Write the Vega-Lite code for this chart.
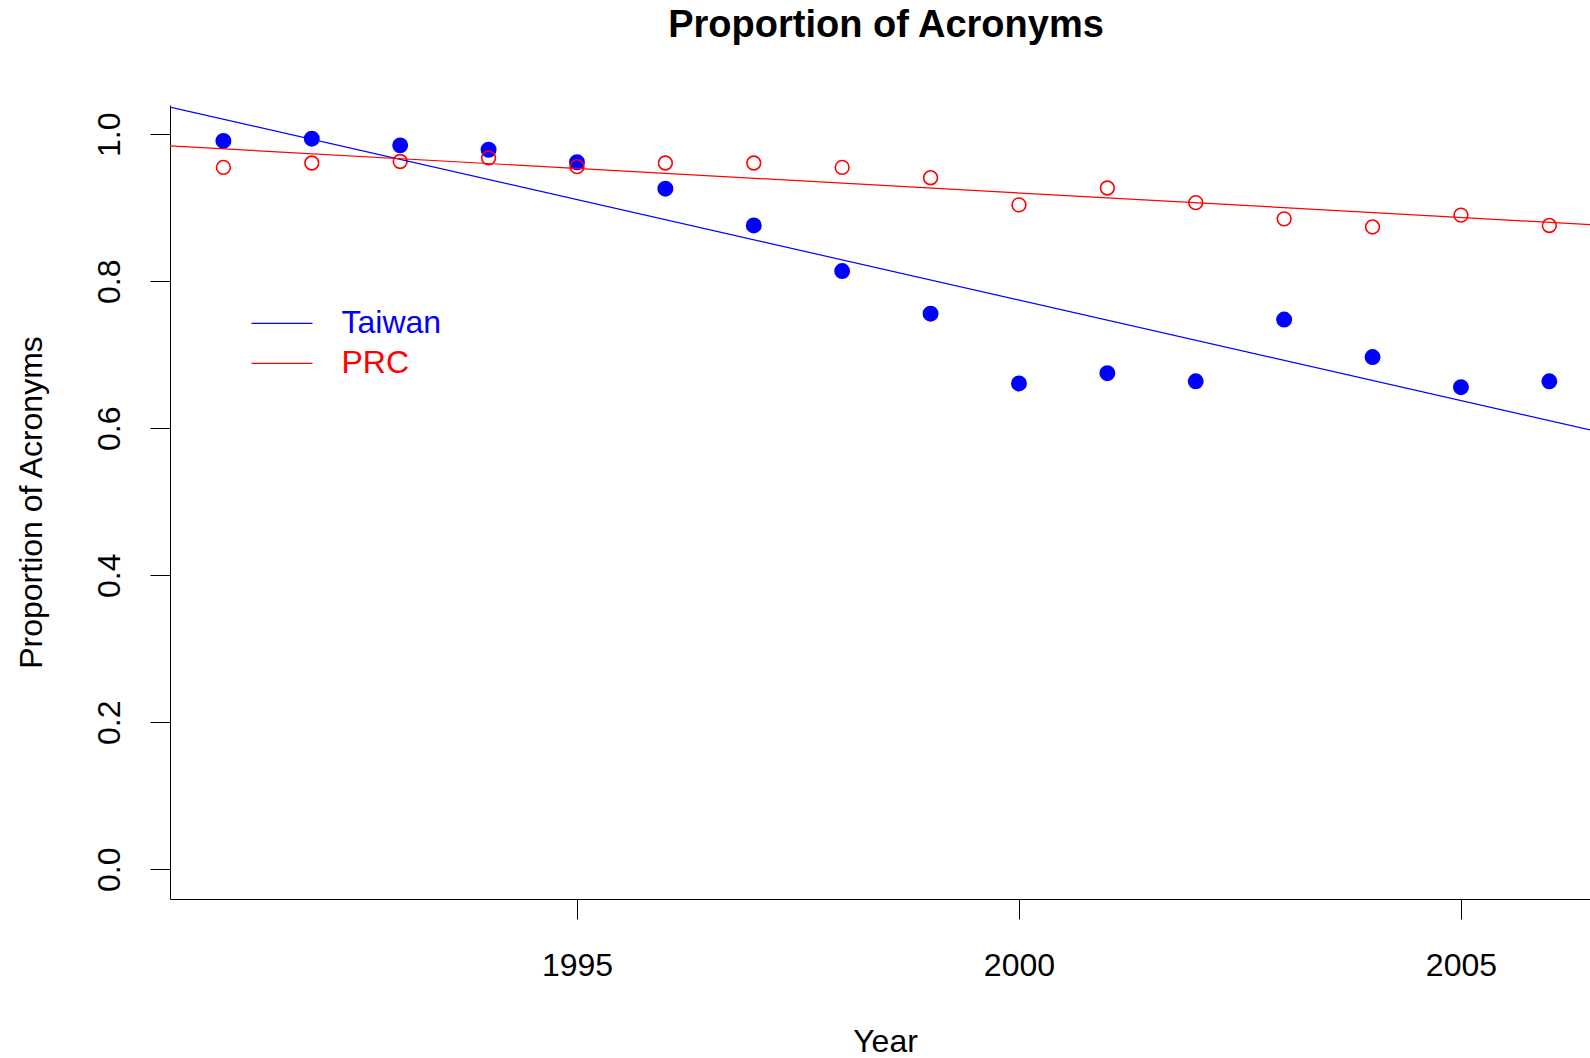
{
  "$schema": "https://vega.github.io/schema/vega-lite/v6.json",
  "width": 1420,
  "height": 794,
  "autosize": {"type": "none"},
  "padding": {"left": 170, "top": 105, "right": 0, "bottom": 159},
  "background": "white",
  "title": {"text": "Proportion of Acronyms", "font": "Liberation Sans", "fontSize": 38, "fontWeight": "bold", "color": "black", "anchor": "middle", "dx": 6, "baseline": "alphabetic", "offset": 30},
  "config": {"view": {"stroke": null}, "font": "Liberation Sans"},
  "data": {"values": [
    {"year": 1991, "series": "Taiwan", "value": 0.991},
    {"year": 1992, "series": "Taiwan", "value": 0.994},
    {"year": 1993, "series": "Taiwan", "value": 0.985},
    {"year": 1994, "series": "Taiwan", "value": 0.979},
    {"year": 1995, "series": "Taiwan", "value": 0.962},
    {"year": 1996, "series": "Taiwan", "value": 0.926},
    {"year": 1997, "series": "Taiwan", "value": 0.876},
    {"year": 1998, "series": "Taiwan", "value": 0.814},
    {"year": 1999, "series": "Taiwan", "value": 0.756},
    {"year": 2000, "series": "Taiwan", "value": 0.661},
    {"year": 2001, "series": "Taiwan", "value": 0.675},
    {"year": 2002, "series": "Taiwan", "value": 0.664},
    {"year": 2003, "series": "Taiwan", "value": 0.748},
    {"year": 2004, "series": "Taiwan", "value": 0.697},
    {"year": 2005, "series": "Taiwan", "value": 0.656},
    {"year": 2006, "series": "Taiwan", "value": 0.664},
    {"year": 1991, "series": "PRC", "value": 0.955},
    {"year": 1992, "series": "PRC", "value": 0.961},
    {"year": 1993, "series": "PRC", "value": 0.963},
    {"year": 1994, "series": "PRC", "value": 0.968},
    {"year": 1995, "series": "PRC", "value": 0.956},
    {"year": 1996, "series": "PRC", "value": 0.961},
    {"year": 1997, "series": "PRC", "value": 0.961},
    {"year": 1998, "series": "PRC", "value": 0.955},
    {"year": 1999, "series": "PRC", "value": 0.941},
    {"year": 2000, "series": "PRC", "value": 0.904},
    {"year": 2001, "series": "PRC", "value": 0.927},
    {"year": 2002, "series": "PRC", "value": 0.907},
    {"year": 2003, "series": "PRC", "value": 0.885},
    {"year": 2004, "series": "PRC", "value": 0.874},
    {"year": 2005, "series": "PRC", "value": 0.890},
    {"year": 2006, "series": "PRC", "value": 0.876}
  ]},
  "encoding": {
    "x": {"field": "year", "type": "quantitative",
      "scale": {"domain": [1990.396, 2006.46], "nice": false, "zero": false},
      "axis": {"values": [1995, 2000, 2005], "format": "d", "title": "Year", "grid": false,
        "tickSize": 20, "tickColor": "black", "tickWidth": 1, "domainColor": "black", "domainWidth": 1,
        "labelColor": "black", "labelFontSize": 32, "labelFont": "Liberation Sans", "labelPadding": 56,
        "labelBaseline": "alphabetic", "labelFlush": false, "labelOverlap": false,
        "titleFont": "Liberation Sans", "titleFontSize": 32, "titleFontWeight": "normal", "titleColor": "black",
        "titleX": 715, "titleY": 152, "titleBaseline": "alphabetic", "titleAlign": "center"}},
    "y": {"field": "value", "type": "quantitative",
      "scale": {"domain": [-0.0404, 1.0399], "nice": false, "zero": false},
      "axis": {"values": [0, 0.2, 0.4, 0.6, 0.8, 1.0], "format": ".1f", "title": "Proportion of Acronyms", "grid": false,
        "tickSize": 20, "tickColor": "black", "tickWidth": 1, "domainColor": "black", "domainWidth": 1,
        "labelColor": "black", "labelFontSize": 32, "labelFont": "Liberation Sans", "labelPadding": 31,
        "labelAngle": 270, "labelAlign": "center", "labelBaseline": "alphabetic", "labelOverlap": false,
        "titleFont": "Liberation Sans", "titleFontSize": 32, "titleFontWeight": "normal", "titleColor": "black",
        "titleAngle": 270, "titleX": -129, "titleY": 397, "titleBaseline": "alphabetic", "titleAlign": "center"}}
  },
  "layer": [
    {
      "transform": [{"filter": "datum.series === 'Taiwan'"}],
      "mark": {"type": "point", "filled": true, "shape": "circle", "size": 254, "color": "#0000ff", "opacity": 1}
    },
    {
      "transform": [{"filter": "datum.series === 'PRC'"}],
      "mark": {"type": "point", "filled": false, "shape": "circle", "size": 190, "color": "#ff0000", "strokeWidth": 1.6, "opacity": 1}
    },
    {
      "transform": [{"regression": "value", "on": "year", "groupby": ["series"], "extent": [1990, 2007]}],
      "mark": {"type": "line", "clip": true, "strokeWidth": 1.2},
      "encoding": {
        "color": {"field": "series", "type": "nominal",
          "scale": {"domain": ["Taiwan", "PRC"], "range": ["#0000ff", "#ff0000"]},
          "legend": {"title": null, "orient": "none", "legendX": 96, "legendY": 202.3, "padding": 0,
            "symbolType": "M-4,0H4", "symbolSize": 232.6, "symbolStrokeWidth": 1.2,
            "labelFont": "Liberation Sans", "labelFontSize": 32, "labelOffset": 43.5, "rowPadding": 8,
            "encode": {"labels": {"update": {"fill": {"scale": "color", "field": "value"}}}}}}
      }
    },
    {
      "data": {"values": [{}]},
      "mark": {"type": "rule", "color": "black", "strokeWidth": 1},
      "encoding": {
        "x": {"datum": 1990.396, "type": "quantitative"},
        "x2": {"datum": 2006.46},
        "y": {"datum": 1.0399, "type": "quantitative"}
      }
    }
  ]
}
